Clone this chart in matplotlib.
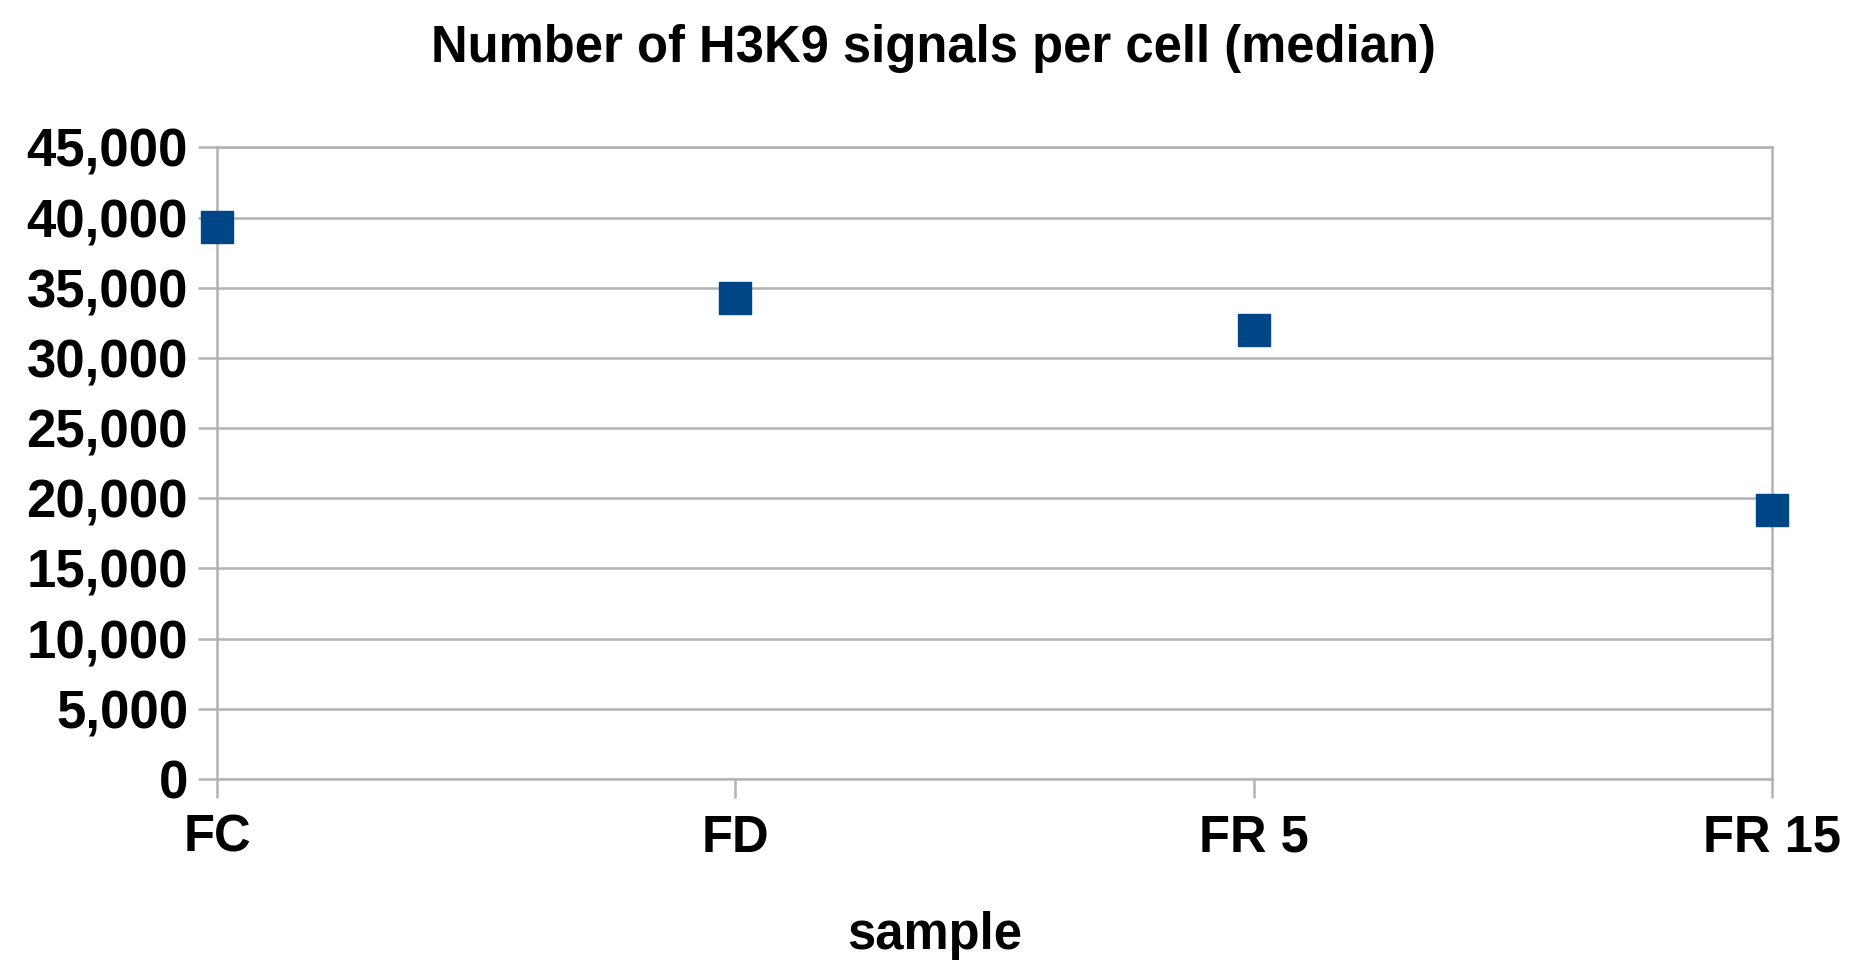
import matplotlib.pyplot as plt
from matplotlib.ticker import FuncFormatter

# --- datos ---
muestras = ["FC", "FD", "FR 5", "FR 15"]
mediana_h3k9 = [39300, 34300, 32000, 19150]
y_ticks = list(range(0, 45001, 5000))

gris = "#b3b3b3"
azul = "#004586"

plt.rcParams['font.family'] = ['Liberation Sans', 'DejaVu Sans']
plt.rcParams['font.weight'] = 'bold'

fig = plt.figure(figsize=(18.55, 9.75), dpi=100)
ax = fig.add_axes([0.1171, 0.2010, 0.9551 - 0.1171, 0.8489 - 0.2010])

x = list(range(len(muestras)))
ax.plot(x, mediana_h3k9, linestyle='none', marker='s', markersize=23,
        color=azul, clip_on=False, zorder=5)

ax.set_xlim(0, len(muestras) - 1)
ax.set_ylim(0, 45000)
ax.set_xticks(x)
ax.set_xticklabels(muestras)
ax.set_yticks(y_ticks)
ax.yaxis.set_major_formatter(FuncFormatter(lambda v, p: f"{int(v):,}"))

ax.grid(axis='y', color=gris, linewidth=1.8)
ax.set_axisbelow(True)
for s in ax.spines.values():
    s.set_color(gris)
    s.set_linewidth(1.8)

ax.tick_params(axis='both', direction='out', length=14, width=1.8, color=gris)
ax.tick_params(axis='y', pad=7, labelsize=38)
ax.tick_params(axis='x', pad=11, labelsize=36.5)
for lab in ax.get_xticklabels() + ax.get_yticklabels():
    lab.set_fontweight('bold')

fig.text(0.503, 0.950, "Number of H3K9 signals per cell (median)",
         ha='center', va='center', fontsize=36.5, fontweight='bold')
fig.text(0.504, 0.040, "sample", ha='center', va='center',
         fontsize=36.5, fontweight='bold')

fig.savefig("out.png", dpi=100)
